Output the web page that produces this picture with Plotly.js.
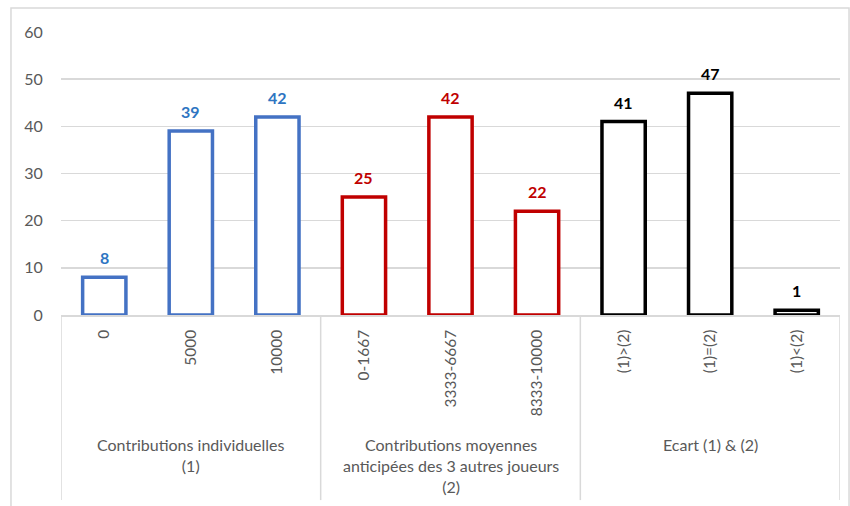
<!DOCTYPE html>
<html>
<head>
<meta charset="utf-8">
<script src="https://cdn.plot.ly/plotly-3.0.1.min.js"></script>
<style>html,body{margin:0;padding:0;background:#fff;}#chart{width:850px;height:506px;}</style>
</head>
<body>
<div id="chart"></div>
<script>
const categories = ['0','5000','10000','0-1667','3333-6667','8333-10000','(1)>(2)','(1)=(2)','(1)<(2)'];
const groupIndividual = ['0','5000','10000'];
const valuesIndividual = [8, 39, 42];
const groupAnticipated = ['0-1667','3333-6667','8333-10000'];
const valuesAnticipated = [25, 42, 22];
const groupGap = ['(1)>(2)','(1)=(2)','(1)<(2)'];
const valuesGap = [41, 47, 1];
const groupLabels = ['Contributions individuelles<br>(1)', 'Contributions moyennes<br>anticipées des 3 autres joueurs<br>(2)', 'Ecart (1) & (2)'];
const yTicks = [0, 10, 20, 30, 40, 50, 60];

const FONT = 'Lato, "Open Sans", sans-serif';
const series = [
  {x: groupIndividual, y: valuesIndividual, line: '#4472C4', txt: '#2E75C2'},
  {x: groupAnticipated, y: valuesAnticipated, line: '#C00000', txt: '#C00000'},
  {x: groupGap, y: valuesGap, line: '#000000', txt: '#000000'}
];
const data = series.map(s => ({
  type: 'bar', x: s.x, y: s.y,
  marker: {color: '#ffffff', line: {color: s.line, width: 3.5}},
  hoverinfo: 'skip', showlegend: false
}));

const n = categories.length;
const bounds = [-0.5, 2.5, 5.5, n - 0.5];
const centres = [1, 4, 7];

const shapes = [
  {type: 'rect', xref: 'paper', yref: 'paper', x0: -0.0642, x1: 1.0116, y0: -0.72, y1: 1.0848,
   line: {color: '#d9d9d9', width: 1.5}, fillcolor: 'rgba(0,0,0,0)', layer: 'below'}
];
bounds.forEach(b => shapes.push({type: 'line', xref: 'x', yref: 'paper', x0: b, x1: b, y0: 0, y1: -0.654,
  line: {color: '#d9d9d9', width: 1.5}}));

const annotations = groupLabels.map((t, i) => ({
  text: t, xref: 'x', yref: 'paper', x: centres[i], y: -0.418, yanchor: 'top', xanchor: 'center',
  showarrow: false, align: 'center', font: {family: FONT, size: 16, color: '#595959'}
}));
series.forEach(s => s.x.forEach((c, i) => annotations.push({
  text: String(s.y[i]), xref: 'x', yref: 'y', x: categories.indexOf(c), y: s.y[i], yanchor: 'bottom', yshift: 8,
  showarrow: false, font: {family: FONT, size: 16, color: s.txt, weight: 'bold'}
})));

const layout = {
  width: 850, height: 506,
  margin: {l: 61, r: 10, t: 32, b: 191},
  paper_bgcolor: '#ffffff', plot_bgcolor: '#ffffff',
  barmode: 'overlay', bargap: 0.5,
  xaxis: {type: 'category', categoryorder: 'array', categoryarray: categories,
    range: [-0.5, n - 0.5],
    tickangle: -90, tickfont: {family: FONT, size: 15.5, color: '#595959'},
    showline: true, linecolor: '#d9d9d9', linewidth: 1.5, showgrid: false,
    ticks: 'outside', ticklen: 7, tickcolor: 'rgba(0,0,0,0)', fixedrange: true},
  yaxis: {range: [0, 60], tickvals: yTicks, ticktext: yTicks.map(String),
    tickfont: {family: FONT, size: 16, color: '#595959'},
    showgrid: true, gridcolor: '#d9d9d9', gridwidth: 1.5, zeroline: false, showline: false,
    ticks: 'outside', ticklen: 14, tickcolor: 'rgba(0,0,0,0)', fixedrange: true},
  shapes: shapes,
  annotations: annotations
};
Plotly.newPlot('chart', data, layout, {displayModeBar: false, staticPlot: true});
</script>
</body>
</html>
